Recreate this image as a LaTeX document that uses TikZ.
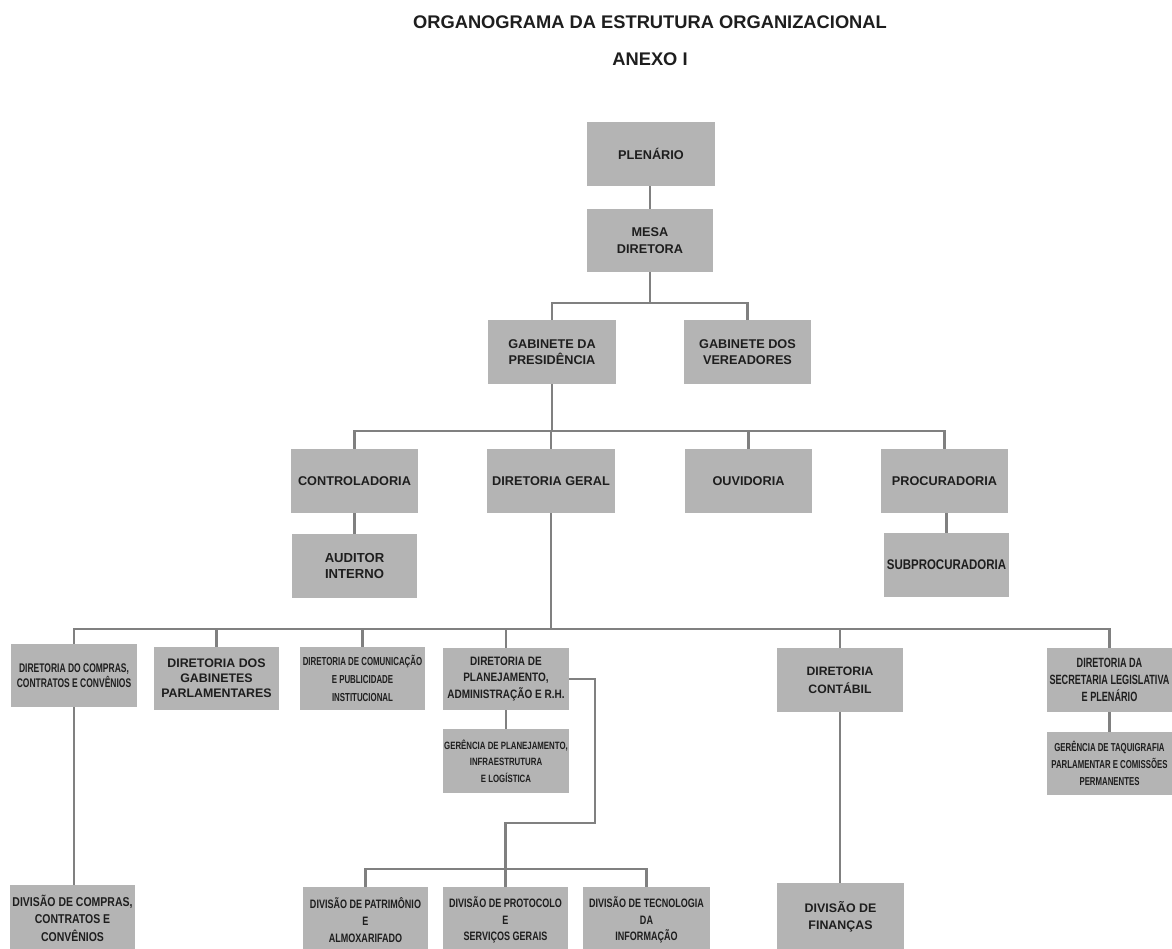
\documentclass[tikz,border=0pt]{standalone}
\usepackage{fontspec}
\setmainfont{Liberation Sans}
\newfontfamily\cnA[FakeStretch=0.68]{Liberation Sans}
\newfontfamily\cnB[FakeStretch=0.74]{Liberation Sans}
\newfontfamily\cnC[FakeStretch=0.82]{Liberation Sans}
\newcommand\fsz[2]{\fontsize{#1}{#2}\selectfont}
\definecolor{boxgray}{RGB}{180,180,180}
\definecolor{linegray}{RGB}{128,128,128}
\definecolor{txtgray}{RGB}{30,30,30}
\begin{document}
\begin{tikzpicture}[x=1pt,y=-1pt,
  box/.style={fill=boxgray, inner sep=0pt, align=center, text=txtgray},
  wh/.style 2 args={minimum width=#1pt, minimum height=#2pt},
  reg/.style={font=\bfseries\fsz{12.7}{16.7}},
  conn/.style={draw=linegray, line width=2.4pt},
  ttl/.style={font=\bfseries\fsz{18.3}{22}, text=txtgray, inner sep=0pt}]
\useasboundingbox (0,0) rectangle (1172,949);
\clip (0,0) rectangle (1172,949);
\fill[white] (0,0) rectangle (1172,949);

\node[ttl] (title) at (650,22) {ORGANOGRAMA DA ESTRUTURA ORGANIZACIONAL};
\node[ttl] (anexo) at (650,59) {ANEXO I};

\node[box,reg,wh={128}{64}] (plen) at (651,154) {PLENÁRIO};
\node[box,reg,wh={126}{63}] (mesa) at (650,240.5) {MESA\\DIRETORA};
\node[box,reg,wh={128}{64}] (gabpres) at (552,352) {GABINETE DA\\PRESIDÊNCIA};
\node[box,reg,wh={127}{64}] (gabver) at (747.5,352) {GABINETE DOS\\VEREADORES};

\node[box,reg,wh={127}{64}] (contr) at (354.5,481) {CONTROLADORIA};
\node[box,reg,wh={128}{64}] (dirger) at (551,481) {DIRETORIA GERAL};
\node[box,reg,wh={127}{64}] (ouv) at (748.5,481) {OUVIDORIA};
\node[box,reg,wh={127}{64}] (procu) at (944.5,481) {PROCURADORIA};
\node[box,font=\bfseries\fsz{13.1}{16.7},wh={125}{64}] (audit) at (354.5,566) {AUDITOR\\INTERNO};
\node[box,font=\bfseries\cnC\fsz{14}{16.7},wh={125}{64}] (subpr) at (946.5,565) {SUBPROCURADORIA};

\node[box,font=\bfseries\cnA\fsz{12.5}{15.5},wh={126}{63}] (dcomp) at (74,675.5) {DIRETORIA DO COMPRAS,\\CONTRATOS E CONVÊNIOS};
\node[box,font=\bfseries\fsz{12.4}{15},wh={125}{63}] (dgab) at (216.5,678.5) {DIRETORIA DOS\\GABINETES\\PARLAMENTARES};
\node[box,font=\bfseries\cnA\fsz{11.6}{18}, wh={125}{63}] (dcom) at (362.5,678.5) {DIRETORIA DE COMUNICAÇÃO\\E PUBLICIDADE\\INSTITUCIONAL};
\node[box,font=\bfseries\cnC\fsz{12.2}{16.7}, wh={126}{62}] (dplan) at (506,679) {DIRETORIA DE\\PLANEJAMENTO,\\ADMINISTRAÇÃO E R.H.};
\node[box,font=\bfseries\fsz{12.2}{17.7}, wh={126}{64}] (dcont) at (840,680) {DIRETORIA\\CONTÁBIL};
\node[box,font=\bfseries\cnA\fsz{13.4}{17}, wh={125}{64}] (dsec) at (1109.5,680) {DIRETORIA DA\\SECRETARIA LEGISLATIVA\\E PLENÁRIO};

\node[box,font=\bfseries\cnB\fsz{10.6}{16.7}, wh={126}{64}] (gplan) at (506,761) {GERÊNCIA DE PLANEJAMENTO,\\INFRAESTRUTURA\\E LOGÍSTICA};
\node[box,font=\bfseries\cnA\fsz{11.5}{17.3}, wh={125}{63}] (gtaq) at (1109.5,763.5) {GERÊNCIA DE TAQUIGRAFIA\\PARLAMENTAR E COMISSÕES\\PERMANENTES};

\node[box,font=\bfseries\cnC\fsz{12.8}{17.5}, wh={125}{66}] (divcomp) at (72.5,918) {DIVISÃO DE COMPRAS,\\CONTRATOS E\\CONVÊNIOS};
\node[box,font=\bfseries\cnB\fsz{12.2}{16.7}, wh={125}{66}] (divpat) at (365.5,920) {DIVISÃO DE PATRIMÔNIO\\E\\ALMOXARIFADO};
\node[box,font=\bfseries\cnB\fsz{12.2}{16.7}, wh={125}{66}] (divprot) at (505.5,920) {DIVISÃO DE PROTOCOLO\\E\\SERVIÇOS GERAIS};
\node[box,font=\bfseries\cnB\fsz{12.2}{16.7}, wh={127}{66}] (divtec) at (646.5,920) {DIVISÃO DE TECNOLOGIA\\DA\\INFORMAÇÃO};
\node[box,font=\bfseries\fsz{12.4}{16.7}, wh={127}{68}] (divfin) at (840.5,917) {DIVISÃO DE\\FINANÇAS};

\coordinate (b1) at (0,303);
\coordinate (b2) at (0,431);
\coordinate (b3) at (0,629);
\coordinate (b4) at (0,869);
\coordinate (loopx) at (595,823);

\draw[conn] (mesa.north |- plen.south) -- (mesa.north);
\draw[conn] (mesa.south) -- (mesa.south |- b1);
\draw[conn] (gabpres.north) |- (gabver.north |- b1) -- (gabver.north);
\draw[conn] (gabpres.south) -- (gabpres.south |- b2);
\draw[conn] (contr.north) |- (procu.north |- b2) -- (procu.north);
\draw[conn] (dirger.north) -- (dirger.north |- b2);
\draw[conn] (ouv.north) -- (ouv.north |- b2);
\draw[conn] (contr.south) -- (audit.north);
\draw[conn] (subpr.north |- procu.south) -- (subpr.north);
\draw[conn] (dirger.south) -- (dirger.south |- b3);
\draw[conn] (dcomp.north) |- (dsec.north |- b3) -- (dsec.north);
\draw[conn] (dgab.north) -- (dgab.north |- b3);
\draw[conn] (dcom.north) -- (dcom.north |- b3);
\draw[conn] (dplan.north) -- (dplan.north |- b3);
\draw[conn] (dcont.north) -- (dcont.north |- b3);
\draw[conn] (dcomp.south) -- (dcomp.south |- divcomp.north);
\draw[conn] (dplan.south) -- (gplan.north);
\draw[conn] (dsec.south) -- (gtaq.north);
\draw[conn] (dcont.south) -- (dcont.south |- divfin.north);
\draw[conn] (dplan.east) -| (loopx) -| (divprot.north |- b4) -- (divprot.north);
\draw[conn] (divpat.north) |- (divtec.north |- b4) -- (divtec.north);
\end{tikzpicture}
\end{document}
